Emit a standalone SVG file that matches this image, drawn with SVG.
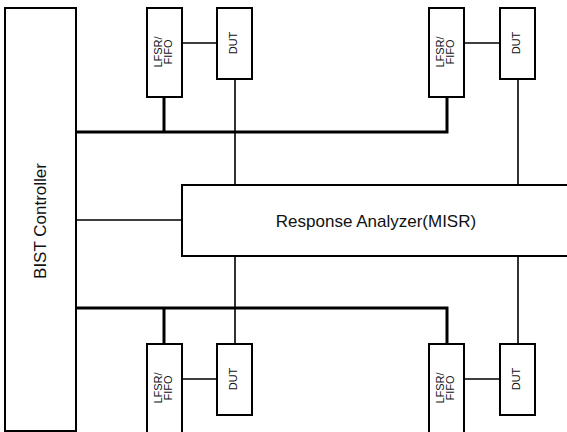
<svg xmlns="http://www.w3.org/2000/svg" width="567" height="432" viewBox="0 0 567 432">
<style>
.box{fill:#fff;stroke:#000;stroke-width:2}
.thin{fill:none;stroke:#000;stroke-width:1.6}
.thick{fill:none;stroke:#000;stroke-width:3}
text{font-family:"Liberation Sans",Arial,sans-serif;fill:#111}
.big{font-size:17px}
.sm{font-size:11px;text-anchor:middle}
.dut{font-size:11px;text-anchor:middle}
</style>
<rect width="567" height="432" fill="#fff"/>
<g id="connectors">
<path class="thick" d="M76 132H447V97M164 97V132"/>
<path class="thick" d="M76 308H447V344M164 308V344"/>
<path class="thin" d="M235 79V185M518 79V185M182 43H217M464 43H500M76 220H182"/>
<path class="thin" d="M235 256V344M518 256V344M182 379H217M464 379H500"/>
</g>
<g id="bist">
<rect class="box" x="5" y="8" width="71" height="423"/>
<text class="big" text-anchor="middle" transform="translate(46,221) rotate(-90)">BIST Controller</text>
</g>
<g id="misr">
<rect class="box" x="182" y="185" width="400" height="71"/>
<text class="big" text-anchor="middle" x="376" y="227">Response Analyzer(MISR)</text>
</g>
<g id="lfsr1">
<rect class="box" x="147" y="8" width="35" height="89"/>
<text class="sm" transform="translate(164.5,52) rotate(-90)"><tspan x="0" y="-2.5">LFSR/</tspan><tspan x="0" y="7">FIFO</tspan></text>
</g>
<g id="dut1">
<rect class="box" x="217" y="8" width="35" height="71"/>
<text class="dut" transform="translate(234.5,43) rotate(-90)" y="2">DUT</text>
</g>
<g id="lfsr2">
<rect class="box" x="429" y="8" width="35" height="89"/>
<text class="sm" transform="translate(446.5,52) rotate(-90)"><tspan x="0" y="-2.5">LFSR/</tspan><tspan x="0" y="7">FIFO</tspan></text>
</g>
<g id="dut2">
<rect class="box" x="500" y="8" width="35" height="71"/>
<text class="dut" transform="translate(517.5,43) rotate(-90)" y="2">DUT</text>
</g>
<g id="lfsr3">
<rect class="box" x="147" y="344" width="35" height="100"/>
<text class="sm" transform="translate(164.5,388) rotate(-90)"><tspan x="0" y="-2.5">LFSR/</tspan><tspan x="0" y="7">FIFO</tspan></text>
</g>
<g id="dut3">
<rect class="box" x="217" y="344" width="35" height="71"/>
<text class="dut" transform="translate(234.5,379) rotate(-90)" y="2">DUT</text>
</g>
<g id="lfsr4">
<rect class="box" x="429" y="344" width="35" height="100"/>
<text class="sm" transform="translate(446.5,388) rotate(-90)"><tspan x="0" y="-2.5">LFSR/</tspan><tspan x="0" y="7">FIFO</tspan></text>
</g>
<g id="dut4">
<rect class="box" x="500" y="344" width="35" height="71"/>
<text class="dut" transform="translate(517.5,379) rotate(-90)" y="2">DUT</text>
</g>
</svg>
